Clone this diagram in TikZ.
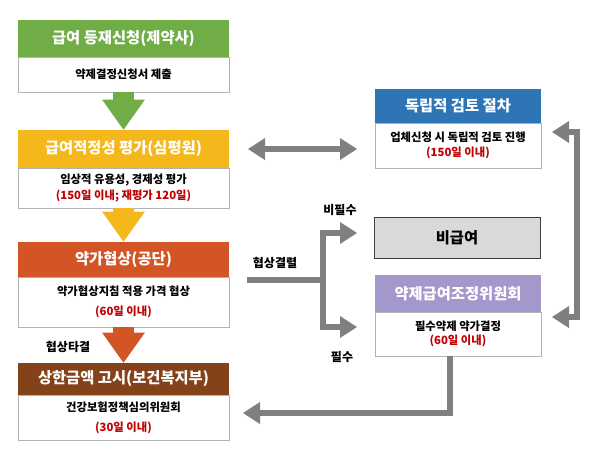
\documentclass[tikz,border=0pt]{standalone}
\usepackage{fontspec}
\setmainfont{Noto Sans CJK KR}
\usepackage{xcolor}
\usetikzlibrary{arrows.meta}
\definecolor{hgreen}{HTML}{70AD47}
\definecolor{hgold}{HTML}{F5B81C}
\definecolor{horange}{HTML}{D35425}
\definecolor{hbrown}{HTML}{84421A}
\definecolor{hblue}{HTML}{2E75B6}
\definecolor{hpurple}{HTML}{A497CC}
\definecolor{nbgray}{HTML}{D9D9D9}
\definecolor{arrgray}{HTML}{7F7F7F}
\definecolor{tred}{HTML}{C00000}

\begin{document}
\begin{tikzpicture}[x=0.75pt, y=-0.75pt,
  head/.style={minimum width=158pt, inner sep=0pt,
               font=\fontsize{11.5}{13}\selectfont\bfseries, text=white},
  body/.style={draw=black!30, fill=white, minimum width=158pt, inner sep=0pt,
               align=center, font=\fontsize{8.5}{11}\selectfont\bfseries},
  rhead/.style={head, minimum width=124.5pt},
  rbody/.style={body, minimum width=124.5pt},
  blk/.style={line width=16pt, -{Triangle[length=22.5pt, width=32pt, line width=0pt]}},
  arr/.style={draw=arrgray, line width=4.5pt,
              -{Triangle[length=12.75pt, width=16.5pt, line width=0pt]}},
  darr/.style={arr, {Triangle[length=12.75pt, width=16.5pt, line width=0pt]}-{Triangle[length=12.75pt, width=16.5pt, line width=0pt]}},
  lbl/.style={font=\fontsize{9}{10}\selectfont\bfseries}
]
\useasboundingbox (0,0) rectangle (600,457);
% Left column: application to notice
\node[body, minimum height=26.25pt] (body1) at (123.5,74.5) {약제결정신청서 제출};
\node[head, fill=hgreen, minimum height=27.75pt] (head1) at (123.5,38.5) {급여 등재신청(제약사)};
\node[body, minimum height=30pt] (body2) at (123.5,188)
  {임상적 유용성, 경제성 평가\\[1pt] \textcolor{tred}{(150일 이내; 재평가 120일)}};
\node[head, fill=hgold, minimum height=28.5pt] (head2) at (123.5,149) {급여적정성 평가(심평원)};
\node[body, minimum height=37.5pt] (body3) at (123.5,302)
  {약가협상지침 적용 가격 협상\\[4pt] \textcolor{tred}{(60일 이내)}};
\node[head, fill=horange, minimum height=26.25pt] (head3) at (123.5,259.5) {약가협상(공단)};
\node[body, minimum height=33.75pt] (body4) at (123.5,417.5)
  {건강보험정책심의위원회\\[4pt] \textcolor{tred}{(30일 이내)}};
\node[head, fill=hbrown, minimum height=24pt] (head4) at (123.5,379) {상한금액 고시(보건복지부)};
% Right column
\node[rbody, minimum height=33.75pt] (body5) at (458,145.5)
  {업체신청 시 독립적 검토 진행\\ \textcolor{tred}{(150일 이내)}};
\node[rhead, fill=hblue, minimum height=25.5pt] (head5) at (458,106) {독립적 검토 절차};
\node[draw=black!75, fill=nbgray, minimum width=124.5pt, minimum height=30.75pt,
      font=\fontsize{11.5}{13}\selectfont\bfseries] (nonben) at (457,237.5) {비급여};
\node[rbody, minimum height=33pt] (body6) at (458,334)
  {필수약제 약가결정\\ \textcolor{tred}{(60일 이내)}};
\node[rhead, fill=hpurple, minimum height=27.75pt] (head6) at (458,293.5) {약제급여조정위원회};
% Labels
\node[lbl] (lbnon)  at (340,210) {비필수};
\node[lbl] (lbfail) at (275,263) {협상결렬};
\node[lbl] (lbess)  at (342,357) {필수};
\node[lbl] (lbok)   at (68,347)  {협상타결};
% Free ends
\coordinate (d1)  at (248,149);
\coordinate (d2)  at (357,149);
\coordinate (ba1) at (552,132);
\coordinate (ba2) at (552,317);
\coordinate (fk)  at (247,280);
\coordinate (fa1) at (357,233);
\coordinate (fa2) at (357,327);
\coordinate (rt)  at (243,413);
% Arrows
\draw[blk, draw=hgreen]  (body1.south) -- (head2.north);
\draw[blk, draw=hgold]   (body2.south) -- (head3.north);
\draw[blk, draw=horange] (body3.south) -- (head4.north);
\draw[darr] (d1) -- (d2);
\draw[darr] (ba1) -- ++(25,0) |- (ba2);
\draw[arr] (fk) -- ++(76,0) |- (fa1);
\draw[arr] (fk) -- ++(76,0) |- (fa2);
\draw[arr] ([xshift=-6pt]body6.south) |- (rt);
\end{tikzpicture}
\end{document}
